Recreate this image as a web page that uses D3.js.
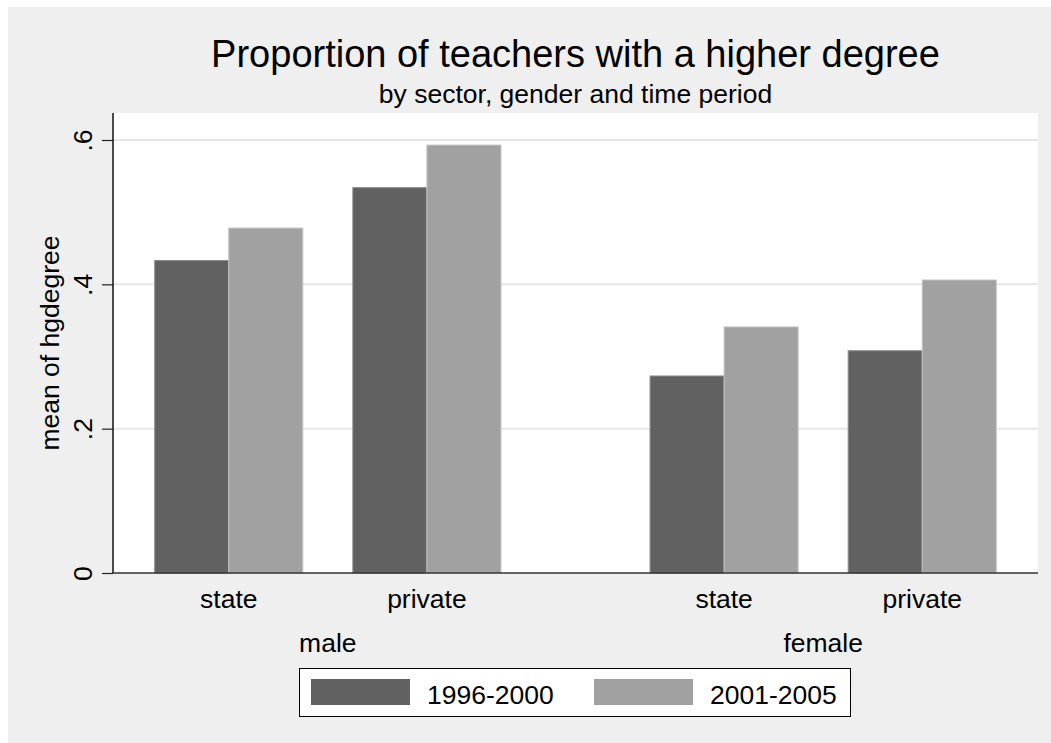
<!DOCTYPE html>
<meta charset="utf-8">
<title>Proportion of teachers with a higher degree</title>
<style>
body {
  margin: 0;
  background-color: white;
  font-family: 'Liberation Sans', Arial, sans-serif;
}
</style>
<body>
<script src="https://d3js.org/d3.v7.min.js"></script>
<script>
var genders = ["male", "female"];
var sectors = ["state", "private"];
var periods = ["1996-2000", "2001-2005"];
// order: male state, male private, female state, female private
var values1996 = [0.433, 0.534, 0.273, 0.308];
var values2001 = [0.478, 0.593, 0.341, 0.406];
var yTicks = [0, 0.2, 0.4, 0.6];
var yTickLabels = ["0", ".2", ".4", ".6"];

var rows = [];
genders.forEach(function(g, gi) {
  sectors.forEach(function(s, si) {
    var k = gi * sectors.length + si;
    rows.push({gender: g, sector: s, period: periods[0], value: values1996[k]});
    rows.push({gender: g, sector: s, period: periods[1], value: values2001[k]});
  });
});

var width = 1051, height = 743;
var plot = {left: 113, right: 1038, top: 113, bottom: 573};
var colors = {"1996-2000": "#616161", "2001-2005": "#a1a1a1"};
var edges = {"1996-2000": "#8c8c8c", "2001-2005": "#c4c4c4"};
var fontSize = "26.5px";

var svg = d3.select("body").append("svg")
    .attr("width", width)
    .attr("height", height);

// outer graph region
svg.append("rect")
    .attr("x", 8).attr("y", 7)
    .attr("width", width - 8).attr("height", height - 7)
    .attr("fill", "#efefef");

svg.append("rect")
    .attr("x", plot.left).attr("y", plot.top)
    .attr("width", plot.right - plot.left).attr("height", plot.bottom - plot.top)
    .attr("fill", "white");

var x0 = d3.scaleBand()
    .domain(genders)
    .range([plot.left, plot.right])
    .paddingInner(0.301)
    .paddingOuter(0.0842);

var x1 = d3.scaleBand()
    .domain(sectors)
    .range([0, x0.bandwidth()])
    .paddingInner(0.2525);

var x2 = d3.scaleBand()
    .domain(periods)
    .range([0, x1.bandwidth()]);

var y = d3.scaleLinear()
    .domain([0, 0.6])
    .range([plot.bottom, 140]);

// grid
svg.append("g").selectAll("line")
  .data(yTicks.filter(function(d) { return d > 0; }))
  .enter().append("line")
    .attr("x1", plot.left).attr("x2", plot.right)
    .attr("y1", function(d) { return y(d); })
    .attr("y2", function(d) { return y(d); })
    .attr("stroke", "#e6e6e6")
    .attr("stroke-width", 2);

// bars
svg.append("g").selectAll("rect")
  .data(rows)
  .enter().append("rect")
    .attr("x", function(d) { return x0(d.gender) + x1(d.sector) + x2(d.period); })
    .attr("y", function(d) { return y(d.value); })
    .attr("width", x2.bandwidth())
    .attr("height", function(d) { return y(0) - y(d.value); })
    .attr("fill", function(d) { return colors[d.period]; })
    .attr("stroke", function(d) { return edges[d.period]; })
    .attr("stroke-width", 1);

// y axis
var yAxis = svg.append("g")
    .attr("transform", "translate(" + plot.left + ",0)")
    .call(d3.axisLeft(y)
      .tickValues(yTicks)
      .tickFormat(function(d, i) { return yTickLabels[i]; })
      .tickSize(11));
yAxis.select(".domain").remove();
yAxis.selectAll(".tick line").attr("stroke", "#222").attr("stroke-width", 1.2);
yAxis.selectAll(".tick text")
    .attr("x", 0)
    .attr("y", -21)
    .attr("dy", null)
    .attr("transform", "rotate(-90)")
    .style("text-anchor", "middle")
    .style("font-family", "'Liberation Sans', Arial, sans-serif")
    .style("font-size", fontSize)
    .attr("fill", "#000");

svg.append("line")
    .attr("x1", plot.left).attr("x2", plot.left)
    .attr("y1", plot.top).attr("y2", plot.bottom)
    .attr("stroke", "#111").attr("stroke-width", 1.5);

svg.append("line")
    .attr("x1", plot.left).attr("x2", plot.right)
    .attr("y1", plot.bottom).attr("y2", plot.bottom)
    .attr("stroke", "#333").attr("stroke-width", 1.5);

// x axis labels, one axis per gender group
genders.forEach(function(g) {
  var ax = svg.append("g")
      .attr("transform", "translate(" + x0(g) + "," + plot.bottom + ")")
      .call(d3.axisBottom(x1).tickSize(0));
  ax.select(".domain").remove();
  ax.selectAll(".tick text")
      .attr("y", 35)
      .attr("dy", null)
      .style("font-family", "'Liberation Sans', Arial, sans-serif")
      .style("font-size", fontSize)
      .attr("fill", "#000");
});

svg.append("g").selectAll("text")
  .data(genders)
  .enter().append("text")
    .attr("x", function(d) { return x0(d) + x0.bandwidth() / 2; })
    .attr("y", 652)
    .attr("text-anchor", "middle")
    .style("font-size", fontSize)
    .text(function(d) { return d; });

// axis title
svg.append("text")
    .attr("transform", "translate(59," + ((plot.top + plot.bottom) / 2) + ") rotate(-90)")
    .attr("text-anchor", "middle")
    .style("font-size", fontSize)
    .text("mean of hgdegree");

// titles
var cx = (plot.left + plot.right) / 2;
svg.append("text")
    .attr("x", cx).attr("y", 67)
    .attr("text-anchor", "middle")
    .style("font-size", "38px")
    .text("Proportion of teachers with a higher degree");

svg.append("text")
    .attr("x", cx).attr("y", 103)
    .attr("text-anchor", "middle")
    .style("font-size", fontSize)
    .text("by sector, gender and time period");

// legend
var legend = svg.append("g");
legend.append("rect")
    .attr("x", 299.5).attr("y", 668.5)
    .attr("width", 551).attr("height", 48)
    .attr("fill", "white")
    .attr("stroke", "#000")
    .attr("stroke-width", 1);

var legendX = d3.scaleOrdinal().domain(periods).range([311, 594]);

legend.selectAll(".swatch")
  .data(periods)
  .enter().append("rect")
    .attr("class", "swatch")
    .attr("x", function(d) { return legendX(d); })
    .attr("y", 679)
    .attr("width", 99)
    .attr("height", 26)
    .attr("fill", function(d) { return colors[d]; });

legend.selectAll(".label")
  .data(periods)
  .enter().append("text")
    .attr("class", "label")
    .attr("x", function(d) { return legendX(d) + 116; })
    .attr("y", 704)
    .style("font-size", fontSize)
    .text(function(d) { return d; });
</script>
</body>
